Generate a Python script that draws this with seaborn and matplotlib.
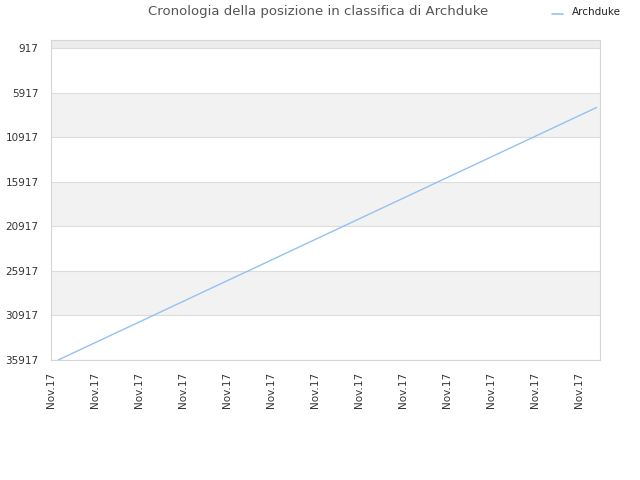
import pandas as pd
import matplotlib
matplotlib.use("Agg")
import matplotlib.pyplot as plt
import seaborn as sns

# data
day_pos = [0.17, 1, 2, 3, 4, 5, 6, 7, 8, 9, 10, 11, 12, 12.4]
ranks = [35900, 33980, 31665, 29350, 27035, 24720, 22405, 20090,
         17775, 15460, 13145, 10830, 8515, 7590]
tick_labels = ["Nov.17"] * 13
y_ticks = [917, 5917, 10917, 15917, 20917, 25917, 30917, 35917]

sns.set_style("white")
plt.rcParams["font.family"] = ["DejaVu Sans"]

df = pd.DataFrame({"pos": day_pos, "rank": ranks, "name": "Archduke"})

fig = plt.figure(figsize=(6.4, 4.8), dpi=100)
ax = fig.add_axes([51 / 640, 0.25, 549 / 640, 320 / 480])

# alternating bands
ax.axhspan(17, 917, color="#ececec", zorder=0, lw=0)
for i in range(len(y_ticks) - 1):
    if i % 2 == 1:
        ax.axhspan(y_ticks[i], y_ticks[i + 1], color="#f2f2f2", zorder=0, lw=0)

sns.lineplot(data=df, x="pos", y="rank", hue="name", palette=["#92c2f2"],
             linewidth=1, ax=ax, legend=False, zorder=3)

ax.set_xlim(0, 549 / 44)
ax.set_ylim(35917, 17)
ax.set_yticks(y_ticks)
ax.set_yticklabels([str(v) for v in y_ticks])
ax.set_xticks(range(len(tick_labels)))
ax.set_xticklabels(tick_labels, rotation=90)
ax.grid(axis="y", color="#dddddd", linewidth=0.8, zorder=1)
ax.set_axisbelow(True)
ax.tick_params(axis="both", labelsize=7.5, colors="#333333", length=0)
ax.tick_params(axis="y", pad=9)
ax.tick_params(axis="x", pad=8.5)
ax.set_xlabel("")
ax.set_ylabel("")
for s in ax.spines.values():
    s.set_color("#d6d6d6")
    s.set_linewidth(0.8)

fig.text(318 / 640, 1 - 12 / 480, "Cronologia della posizione in classifica di Archduke",
         ha="center", va="center", fontsize=9.5, color="#555555")
fig.lines.append(plt.Line2D([552 / 640, 563 / 640], [1 - 14 / 480] * 2,
                            color="#92c2f2", linewidth=1.2, transform=fig.transFigure))
fig.text(572 / 640, 1 - 12 / 480, "Archduke", ha="left", va="center",
         fontsize=7.5, color="#222222")

fig.savefig("out.png", dpi=100)
